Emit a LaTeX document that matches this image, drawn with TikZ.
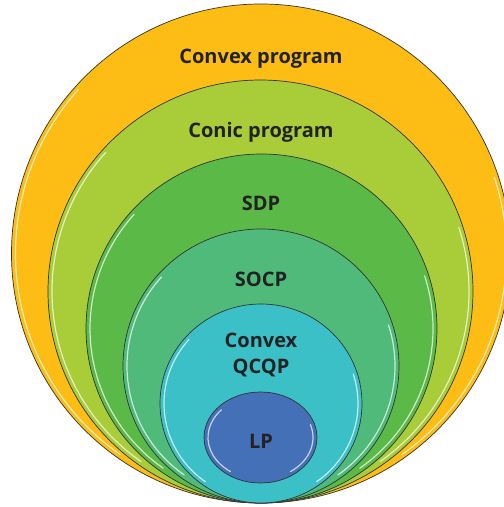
\documentclass[tikz,border=0pt]{standalone}
\usepackage{fontspec}
\setmainfont{Open Sans}
\definecolor{cOuter}{HTML}{FDBD14}
\definecolor{cConic}{HTML}{A8CD39}
\definecolor{cSDP}{HTML}{5BB947}
\definecolor{cSOCP}{HTML}{50BA7A}
\definecolor{cQCQP}{HTML}{3CC0C8}
\definecolor{cLP}{HTML}{4470B7}
\definecolor{cText}{HTML}{222222}
\tikzset{
  set/.style={draw=black!80, line width=0.7pt},
  lbl/.style={font=\bfseries\fontsize{20}{24}\selectfont, text=cText, align=center, inner sep=0pt},
  shine/.style={draw=white, opacity=0.7, line width=1.2pt, line cap=round},
}
\begin{document}
\begin{tikzpicture}[x=1pt,y=1pt]
\useasboundingbox (0,0) rectangle (504,507);
\clip (0,0) rectangle (504,507);
% sets: centre x, centre y, rx, ry
\foreach \cx/\cy/\rx/\ry/\col in {261/253.5/249.5/249.5/cOuter, 260.5/215.5/212.5/211.5/cConic, 261.5/178.5/175.5/174.5/cSDP, 261/141/138/137/cSOCP, 261/103.5/101/99.5/cQCQP, 260.5/69.5/56.5/45.5/cLP}{
  \path[set, fill=\col] (\cx,\cy) ellipse [x radius=\rx, y radius=\ry];
  \draw[shine] ([shift={(138:\rx-4 and \ry-4)}]\cx,\cy) arc [start angle=138, end angle=235, x radius=\rx-4, y radius=\ry-4];
  \draw[shine] ([shift={(-55:\rx-4 and \ry-4)}]\cx,\cy) arc [start angle=-55, end angle=18, x radius=\rx-4, y radius=\ry-4];
}
\node[lbl] (convex) at (261,448) {Convex program};
\node[lbl] (conic) at (261,375) {Conic program};
\node[lbl] (sdp) at (261,304) {SDP};
\node[lbl] (socp) at (261,228) {SOCP};
\node[lbl] (qcqp) at (261,152) {Convex\\[2pt]QCQP};
\node[lbl] (lp) at (261,66) {LP};
\end{tikzpicture}
\end{document}
